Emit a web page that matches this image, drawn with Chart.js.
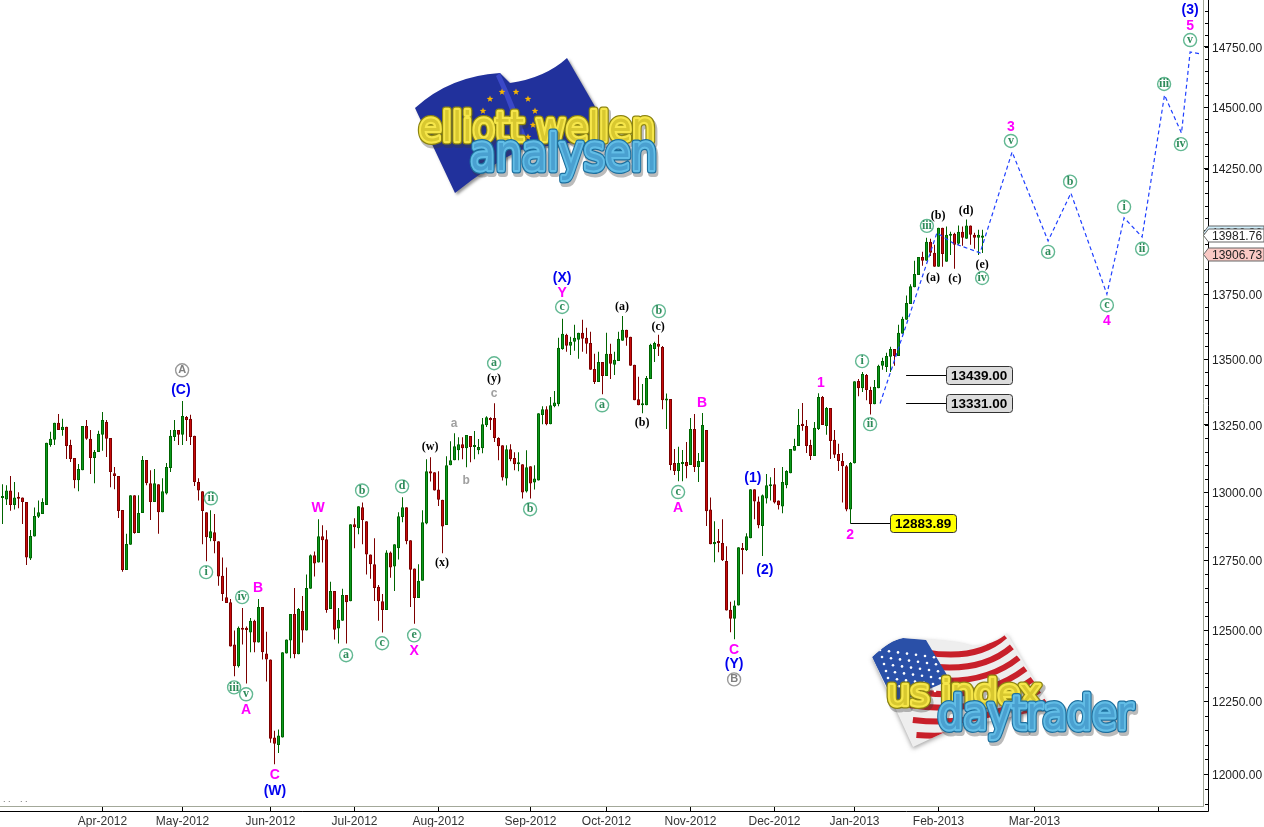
<!DOCTYPE html>
<html>
<head>
<meta charset="utf-8">
<title>US Index Elliott Wave</title>
<script src="https://cdn.jsdelivr.net/npm/chart.js@4"></script>
<style>
  html, body { margin: 0; padding: 0; background: #fff; overflow: hidden; }
  canvas { display: block; }
</style>
</head>
<body>
<canvas id="chart" width="1264" height="827"></canvas>
<script>
// daily candles
const opens = [
  12978,12973,13006,12952,12983,12980,12963,12757,12837,12909,
  12919,12952,13175,13194,13258,13231,13243,13175,13126,13044,
  13081,13246,13198,13126,13149,13213,13261,13201,13070,13059,
  12934,12716,12807,12988,12850,12923,13119,13033,12963,13029,
  12926,12995,13089,13205,13231,13213,13280,13273,13209,13037,
  13003,12926,12831,12853,12820,12695,12618,12600,12450,12373,
  12509,12509,12492,12534,12457,12583,12418,12397,12125,12100,
  12125,12418,12464,12558,12415,12569,12499,12648,12769,12743,
  12838,12827,12576,12640,12506,12534,12626,12603,12882,12867,
  12944,12893,12772,12736,12655,12603,12572,12779,12728,12794,
  12908,12944,12823,12721,12615,12677,12885,13077,13073,13009,
  12972,12879,13099,13118,13155,13178,13163,13208,13167,13155,
  13163,13249,13276,13276,13201,13174,13050,13159,13126,13103,
  13103,13002,13096,13035,13043,13287,13309,13253,13320,13328,
  13539,13593,13551,13566,13574,13601,13582,13562,13462,13412,
  13489,13435,13520,13478,13493,13570,13613,13586,13478,13347,
  13324,13324,13424,13539,13559,13546,13342,13348,13108,13078,
  13104,13111,13100,13235,13093,13111,13231,12936,12809,12820,
  12813,12748,12573,12541,12588,12795,12788,12831,13010,12965,
  12875,12976,13021,13029,12969,12947,13025,13070,13153,13171,
  13254,13246,13175,13134,13235,13355,13246,13314,13194,13141,
  13115,13096,12936,13107,13416,13389,13439,13382,13328,13389,
  13474,13470,13509,13539,13512,13597,13651,13713,13778,13826,
  13897,13882,13957,13913,13858,14013,13878,13981,13989,13949,
  13997,13969,14021,13985,13973,13973
];
const highs = [
  13029,13025,13059,13037,12999,12980,12963,12861,12943,12969,
  12977,13183,13224,13258,13291,13273,13243,13194,13126,13104,
  13246,13269,13231,13156,13228,13299,13269,13201,13093,13059,
  12934,12847,12988,12988,12988,13134,13119,13081,13085,13029,
  13051,13108,13231,13269,13231,13340,13284,13288,13209,13051,
  13003,12926,12933,12919,12820,12761,12725,12611,12499,12513,
  12579,12513,12544,12537,12611,12583,12495,12397,12149,12153,
  12422,12467,12558,12651,12579,12622,12699,12772,12783,12900,
  12878,12860,12673,12640,12579,12648,12626,12882,12904,12948,
  12962,12893,12772,12831,12662,12629,12787,12783,12809,12926,
  12981,12944,12823,12721,12736,12933,13122,13129,13073,13077,
  12972,13133,13189,13219,13204,13204,13212,13208,13227,13197,
  13276,13283,13279,13332,13204,13174,13174,13178,13148,13148,
  13103,13155,13096,13099,13294,13320,13320,13355,13378,13582,
  13655,13597,13586,13632,13601,13651,13620,13605,13520,13528,
  13489,13601,13559,13528,13605,13666,13613,13586,13478,13432,
  13405,13435,13559,13566,13593,13550,13369,13348,13160,13168,
  13156,13186,13276,13291,13145,13295,13231,12980,12893,12864,
  12900,12802,12602,12606,12798,12813,12849,13010,13010,12984,
  12991,13067,13055,13089,12969,13093,13081,13160,13198,13310,
  13333,13269,13194,13261,13370,13359,13318,13314,13231,13179,
  13145,13100,13111,13415,13424,13451,13443,13394,13420,13478,
  13505,13524,13547,13539,13632,13663,13746,13790,13882,13897,
  13917,13973,13969,13945,14013,14013,14017,13997,13993,14021,
  14017,14045,14021,13993,14005,14005
];
const lows = [
  12883,12952,12931,12936,12940,12883,12734,12752,12837,12905,
  12919,12952,13168,13175,13231,13209,13123,13111,13014,13003,
  13081,13194,13067,13033,13149,13153,13130,13018,13010,12905,
  12709,12716,12807,12847,12850,12923,13025,12897,12963,12847,
  12926,12991,13074,13190,13175,13175,13190,13175,13022,12969,
  12809,12747,12820,12776,12659,12604,12597,12443,12338,12369,
  12450,12313,12422,12422,12457,12397,12320,12107,12034,12072,
  12125,12418,12401,12401,12415,12457,12499,12648,12692,12743,
  12743,12562,12576,12467,12453,12534,12453,12603,12794,12845,
  12809,12699,12684,12604,12534,12492,12572,12688,12640,12754,
  12889,12809,12583,12523,12615,12677,12882,13039,13006,12949,
  12776,12879,13099,13118,13118,13122,13092,13110,13122,13140,
  13144,13242,13231,13186,13118,13043,13024,13114,13081,13077,
  12976,12998,12976,13009,13043,13253,13249,13253,13317,13320,
  13536,13528,13516,13532,13501,13528,13520,13459,13405,13412,
  13366,13435,13424,13439,13493,13570,13551,13474,13343,13324,
  13294,13324,13424,13489,13512,13309,13235,13081,13063,13040,
  13040,13051,13100,13074,13037,13111,12875,12809,12744,12780,
  12748,12570,12493,12468,12588,12700,12784,12831,12900,12867,
  12766,12958,12969,12958,12936,12922,13014,13070,13153,13171,
  13228,13145,13119,13134,13231,13250,13213,13123,13126,13078,
  12962,12929,12885,13106,13358,13374,13343,13289,13328,13389,
  13459,13451,13451,13474,13512,13597,13651,13713,13778,13826,
  13862,13882,13901,13858,13858,13858,13878,13905,13850,13945,
  13941,13969,13945,13929,13905,13912
];
const closes = [
  12983,13006,12952,12980,12975,12963,12761,12839,12912,12926,
  12963,13183,13198,13258,13231,13243,13171,13123,13044,13085,
  13246,13198,13126,13149,13217,13269,13198,13074,13059,12930,
  12716,12810,12988,12850,12923,13119,13033,12963,13033,12926,
  13003,13093,13209,13231,13213,13284,13269,13205,13037,13006,
  12930,12834,12856,12820,12692,12629,12597,12443,12373,12509,
  12502,12501,12534,12457,12583,12422,12397,12121,12104,12132,
  12422,12467,12558,12415,12576,12499,12651,12769,12739,12838,
  12823,12572,12640,12502,12537,12626,12600,12882,12871,12948,
  12897,12772,12736,12651,12603,12572,12779,12725,12809,12911,
  12944,12820,12717,12615,12677,12889,13077,13069,13006,12972,
  12874,13099,13118,13170,13178,13163,13212,13167,13174,13167,
  13253,13279,13268,13201,13170,13054,13159,13122,13103,13110,
  12998,13092,13032,13050,13294,13309,13253,13324,13335,13543,
  13597,13551,13566,13582,13601,13578,13559,13459,13412,13489,
  13435,13520,13482,13497,13578,13613,13582,13474,13343,13324,
  13332,13428,13555,13562,13547,13343,13347,13100,13078,13108,
  13111,13096,13235,13093,13115,13250,12929,12809,12817,12813,
  12751,12570,12541,12588,12798,12788,12838,13010,12965,12878,
  12988,13025,13029,12962,12951,13037,13078,13160,13171,13250,
  13246,13171,13134,13239,13355,13250,13314,13190,13138,13115,
  13096,12936,13108,13415,13389,13443,13382,13328,13393,13474,
  13493,13512,13539,13512,13601,13655,13716,13782,13830,13897,
  13882,13957,13913,13858,14013,13909,13985,13989,13945,13997,
  13973,14021,13985,13973,13985,13982
];

// dashed projection: bar number and price of each turning point
const projBars = [219.4,233.6,237.6,244.4,252.4,261.4,267.1,276.1,280.4,284.9,290.5,294.75,296.9,299.6];
const projPrices = [13331,13992,13952,13913,14317,13960,14151,13751,14052,13976,14550,14394,14729,14721];

// axis ticks
const monthBars = [25,45,67,88,109,132,151,172,193,213,234,258,289];
const monthLabels = ['Apr-2012','May-2012','Jun-2012','Jul-2012','Aug-2012','Sep-2012','Oct-2012','Nov-2012','Dec-2012','Jan-2013','Feb-2013','Mar-2013',''];
const priceTicks = [12000,12250,12500,12750,13000,13250,13500,13750,14000,14250,14500,14750];

// wave labels as [text, bar, price]
const blueLabels = [['(C)',44.6,13385],['(W)',68.1,11946],['(X)',139.9,13818],['(1)',187.6,13054],['(2)',190.6,12719],['(Y)',182.9,12383],['(3)',296.9,14910]];
const magentaLabels = [['W',78.9,12944],['B',63.9,12654],['A',60.9,12224],['C',68.1,12000],['X',102.9,12429],['Y',139.9,13759],['B',174.9,13335],['A',168.9,12944],['C',182.9,12433],['1',204.6,13411],['2',211.9,12845],['3',252.1,14423],['4',276.1,13650],['5',296.9,14842]];
const blackLabels = [['(w)',106.9,13170],['(x)',109.9,12744],['(y)',122.9,13427],['(a)',154.9,13705],['(b)',159.9,13260],['(c)',163.9,13627],['(a)',232.6,13818],['(b)',233.9,14064],['(c)',238.1,13814],['(d)',240.9,14084],['(e)',244.9,13869]];
const greyLabels = [['a',112.9,13257],['b',115.9,13047],['c',122.9,13373]];
const circledGreen = [['ii',52.1,12977],['i',50.9,12708],['iv',59.9,12618],['iii',57.9,12299],['v',60.9,12275],['a',85.9,12412],['b',89.9,13006],['c',94.9,12454],['d',99.9,13021],['e',102.9,12482],['a',122.9,13484],['b',131.9,12937],['c',139.9,13701],['a',149.9,13324],['b',164.1,13685],['c',168.9,13000],['i',214.9,13492],['ii',216.9,13253],['iii',231.1,14020],['iv',244.9,13814],['v',252.1,14362],['a',261.4,13917],['b',266.9,14197],['c',276.1,13708],['i',280.4,14096],['ii',284.9,13929],['iii',290.4,14596],['iv',294.6,14349],['v',296.9,14779]];
const circledGrey = [['A',44.9,13457],['B',182.9,12327]];

// price callouts as [price, first bar, last bar, fill]
const callouts = [[13439.00,225.9,235.9,'#dcdcdc'],[13331.00,225.9,235.9,'#dcdcdc'],[12883.89,212,221.9,'#ffff00']];
// tags on the price axis
const axisTagValues = [13996.36,13981.76,13906.73];
const axisTagFills = ['#cfeefa','#ffffff','#f9c9c4'];

const isUp = opens.map((o, i) => closes[i] >= o);
const GREEN_DARK = '#006400', GREEN = '#0a9a1e', RED_DARK = '#7c0000', RED = '#c80a0a';

function drawText(ctx, text, x, y, font, color) {
  ctx.font = font;
  ctx.fillStyle = color;
  ctx.textAlign = 'center';
  ctx.textBaseline = 'middle';
  ctx.fillText(text, x, y + 1);
}

// text with a coloured rim, squeezed to a given width
function logoText(ctx, text, x, y, width, font, rim, fill, core) {
  ctx.save();
  ctx.font = font;
  ctx.textAlign = 'left';
  ctx.textBaseline = 'alphabetic';
  ctx.lineJoin = 'round';
  const w = ctx.measureText(text).width;
  ctx.translate(x, y);
  ctx.scale(width / w, 1);
  ctx.strokeStyle = 'rgba(60,60,60,0.35)';
  ctx.lineWidth = 8;
  ctx.strokeText(text, 2, 3);
  ctx.strokeStyle = rim;
  ctx.lineWidth = 7;
  ctx.strokeText(text, 0, 0);
  ctx.strokeStyle = fill;
  ctx.lineWidth = 4.5;
  ctx.strokeText(text, 0, 0);
  ctx.fillStyle = core;
  ctx.fillText(text, 0, 0);
  ctx.restore();
}

function star(ctx, x, y, r) {
  ctx.beginPath();
  for (let i = 0; i < 10; i++) {
    const a = -Math.PI / 2 + i * Math.PI / 5;
    const rr = i % 2 ? r * 0.42 : r;
    ctx.lineTo(x + rr * Math.cos(a), y + rr * Math.sin(a));
  }
  ctx.closePath();
  ctx.fill();
}

function drawEuLogo(ctx) {
  ctx.save();
  const shape = () => {
    ctx.beginPath();
    ctx.moveTo(415, 108);
    ctx.quadraticCurveTo(450, 76, 500, 73);
    ctx.lineTo(510, 83);
    ctx.quadraticCurveTo(545, 78, 567, 58);
    ctx.lineTo(597, 110);
    ctx.lineTo(590, 140);
    ctx.lineTo(520, 150);
    ctx.quadraticCurveTo(490, 165, 455, 193);
    ctx.closePath();
  };
  ctx.shadowColor = 'rgba(80,80,80,0.6)';
  ctx.shadowBlur = 3;
  ctx.shadowOffsetX = 2;
  ctx.shadowOffsetY = 2;
  ctx.fillStyle = '#21319c';
  shape();
  ctx.fill();
  ctx.shadowColor = 'transparent';
  ctx.fillStyle = '#3a48c8';
  ctx.beginPath();
  ctx.moveTo(500, 73);
  ctx.quadraticCurveTo(515, 105, 528, 142);
  ctx.lineTo(521, 146);
  ctx.quadraticCurveTo(510, 105, 496, 76);
  ctx.closePath();
  ctx.fill();
  ctx.fillStyle = '#f5b400';
  [[502,92],[516,92],[490,99],[528,99],[483,111],[535,111],[533,125],[528,137],[488,135]].forEach(p => star(ctx, p[0], p[1], 3.5));
  ctx.restore();
  logoText(ctx, 'elliott wellen', 419, 141, 236, '40px "DejaVu Sans"', '#8c8410', '#f6e64a', '#d8c830');
  logoText(ctx, 'analysen', 470, 170, 187, '50px "DejaVu Sans"', '#1d6f9e', '#62bde6', '#4aa0d0');
}

function drawUsLogo(ctx) {
  ctx.save();
  ctx.beginPath();
  ctx.moveTo(872, 657);
  ctx.quadraticCurveTo(890, 640, 903, 638);
  ctx.quadraticCurveTo(960, 640, 972, 646);
  ctx.quadraticCurveTo(995, 645, 1007, 633);
  ctx.lineTo(1050, 707);
  ctx.lineTo(1000, 720);
  ctx.lineTo(960, 725);
  ctx.lineTo(913, 747);
  ctx.lineTo(893, 703);
  ctx.closePath();
  ctx.shadowColor = 'rgba(80,80,80,0.5)';
  ctx.shadowBlur = 4;
  ctx.shadowOffsetY = 2;
  ctx.fillStyle = '#eeeeee';
  ctx.fill();
  ctx.shadowColor = 'transparent';
  ctx.clip();
  ctx.strokeStyle = '#c8202a';
  ctx.lineWidth = 6;
  for (let n = 0; n < 8; n++) {
    const t = n / 7;
    ctx.beginPath();
    ctx.moveTo(895 + 25 * t, 645 + 105 * t);
    ctx.quadraticCurveTo(970 + 20 * t, 668 + 85 * t, 1005 + 48 * t, 636 + 76 * t);
    ctx.stroke();
  }
  ctx.fillStyle = '#2a50a8';
  ctx.beginPath();
  ctx.moveTo(872, 657);
  ctx.quadraticCurveTo(890, 640, 903, 638);
  ctx.lineTo(926, 640);
  ctx.lineTo(950, 680);
  ctx.lineTo(895, 704);
  ctx.closePath();
  ctx.fill();
  ctx.fillStyle = '#ffffff';
  for (let r = 0; r < 6; r++) {
    for (let c = 0; c < 7; c++) {
      ctx.beginPath();
      ctx.arc(880 + c * 9 + r * 2, 650 + r * 7 + c * 1.2, 1.3, 0, 7);
      ctx.fill();
    }
  }
  ctx.restore();
  logoText(ctx, 'us index', 887, 705, 154, '36px "DejaVu Sans"', '#8c8410', '#f6e64a', '#d8c830');
  logoText(ctx, 'daytrader', 938, 729, 195, '46px "DejaVu Sans"', '#1d6f9e', '#62bde6', '#4aa0d0');
}

const overlayPlugin = {
  id: 'overlay',
  afterDraw(chart) {
    const ctx = chart.ctx;
    const x = chart.scales.x, y = chart.scales.y, area = chart.chartArea;
    const axisX = area.right + 5, axisY = area.bottom + 5;
    ctx.save();

    // black outer axis lines and minor price ticks
    ctx.strokeStyle = '#000';
    ctx.lineWidth = 1;
    ctx.beginPath();
    ctx.moveTo(0, axisY + 0.5);
    ctx.lineTo(axisX + 0.5, axisY + 0.5);
    ctx.lineTo(axisX + 0.5, 0);
    for (let v = 11900; v <= 14900; v += 50) {
      const py = Math.round(y.getPixelForValue(v)) + 0.5;
      ctx.moveTo(axisX - 3, py);
      ctx.lineTo(axisX, py);
    }
    ctx.stroke();

    // price labels sit a touch below their ticks, so they are drawn here
    ctx.font = '12px "Liberation Sans"';
    ctx.fillStyle = '#222';
    ctx.textAlign = 'left';
    ctx.textBaseline = 'middle';
    y.ticks.forEach(t => ctx.fillText(t.label, axisX + 4, y.getPixelForValue(t.value) + 1.5));

    drawEuLogo(ctx);
    drawUsLogo(ctx);

    blueLabels.forEach(l => drawText(ctx, l[0], x.getPixelForValue(l[1]), y.getPixelForValue(l[2]), 'bold 14px "Liberation Sans"', '#0000ee'));
    magentaLabels.forEach(l => drawText(ctx, l[0], x.getPixelForValue(l[1]), y.getPixelForValue(l[2]), 'bold 14px "Liberation Sans"', '#ff00ff'));
    blackLabels.forEach(l => drawText(ctx, l[0], x.getPixelForValue(l[1]), y.getPixelForValue(l[2]), 'bold 12px "Liberation Serif"', '#000'));
    greyLabels.forEach(l => drawText(ctx, l[0], x.getPixelForValue(l[1]), y.getPixelForValue(l[2]), 'bold 12px "Liberation Sans"', '#a0a0a0'));

    const circled = (l, rim, color, font) => {
      const cx = x.getPixelForValue(l[1]), cy = y.getPixelForValue(l[2]);
      ctx.beginPath();
      ctx.arc(cx, cy, 6.5, 0, Math.PI * 2);
      ctx.fillStyle = '#fff';
      ctx.fill();
      ctx.strokeStyle = rim;
      ctx.lineWidth = 1.4;
      ctx.stroke();
      drawText(ctx, l[0], cx, cy - 1, font, color);
    };
    circledGreen.forEach(l => circled(l, '#62b892', '#2e8b5a', 'bold 12px "Liberation Serif"'));
    circledGrey.forEach(l => circled(l, '#999999', '#808080', 'bold 11px "Liberation Sans"'));

    // price callouts
    callouts.forEach(c => {
      const py = Math.floor(y.getPixelForValue(c[0])) + 0.5;
      const x0 = x.getPixelForValue(c[1]), x1 = x.getPixelForValue(c[2]);
      ctx.strokeStyle = '#000';
      ctx.lineWidth = 1;
      ctx.beginPath();
      ctx.moveTo(x0, py);
      ctx.lineTo(x1, py);
      ctx.stroke();
      ctx.beginPath();
      ctx.roundRect(Math.round(x1) + 0.5, py - 9, 66, 18, 3);
      ctx.fillStyle = c[3];
      ctx.fill();
      ctx.strokeStyle = '#333';
      ctx.stroke();
      drawText(ctx, c[0].toFixed(2), x1 + 33, py, 'bold 13.5px "Liberation Sans"', '#000');
    });

    // tags on the price axis
    axisTagValues.forEach((v, i) => {
      const py = Math.round(y.getPixelForValue(v)) + 0.5;
      ctx.beginPath();
      ctx.moveTo(area.right + 0.5, py);
      ctx.lineTo(axisX + 0.5, py - 6.5);
      ctx.lineTo(1264, py - 6.5);
      ctx.lineTo(1264, py + 6.5);
      ctx.lineTo(axisX + 0.5, py + 6.5);
      ctx.closePath();
      ctx.fillStyle = axisTagFills[i];
      ctx.fill();
      ctx.strokeStyle = '#666';
      ctx.lineWidth = 1;
      ctx.stroke();
      ctx.font = '12px "Liberation Sans"';
      ctx.fillStyle = '#222';
      ctx.textAlign = 'left';
      ctx.textBaseline = 'middle';
      ctx.fillText(v.toFixed(2), axisX + 4, py + 1);
    });

    // the few stray dots bottom left
    ctx.font = '9px "Liberation Sans"';
    ctx.fillStyle = '#666';
    ctx.textAlign = 'left';
    ctx.textBaseline = 'alphabetic';
    ctx.fillText('. .', 3, 802);
    ctx.fillText('. .', 20, 802);
    ctx.restore();
  }
};

new Chart(document.getElementById('chart'), {
  type: 'bar',
  data: {
    datasets: [
      {
        type: 'line',
        data: projBars.map((b, i) => ({ x: b, y: projPrices[i] })),
        borderColor: '#2040ff',
        borderWidth: 1.2,
        borderDash: [4, 3],
        pointRadius: 0,
        tension: 0,
        order: 0
      },
      {
        // bodies
        data: opens.map((o, i) => ({ x: i, y: [o, closes[i]] })),
        backgroundColor: isUp.map(u => u ? GREEN : RED),
        borderColor: isUp.map(u => u ? GREEN_DARK : RED_DARK),
        borderWidth: 1,
        borderSkipped: false,
        inflateAmount: 0,
        barThickness: 3,
        minBarLength: 2,
        grouped: false,
        order: 1
      },
      {
        // wicks
        data: lows.map((l, i) => ({ x: i, y: [l, highs[i]] })),
        backgroundColor: isUp.map(u => u ? GREEN_DARK : RED_DARK),
        borderWidth: 0,
        inflateAmount: 0,
        barThickness: 1,
        grouped: false,
        order: 2
      }
    ]
  },
  options: {
    responsive: false,
    animation: false,
    events: [],
    layout: { padding: 0 },
    plugins: { legend: { display: false }, tooltip: { enabled: false }, title: { display: false } },
    scales: {
      x: {
        type: 'linear',
        offset: false,
        min: -0.625,
        max: 300.125,
        afterFit(scale) { scale.height = 21; scale.paddingLeft = 0; scale.paddingRight = 0; },
        afterBuildTicks(scale) { scale.ticks = monthBars.map(v => ({ value: v })); },
        grid: { offset: false, drawOnChartArea: false, tickLength: 5, tickColor: '#000' },
        border: { color: '#a3a899' },
        ticks: {
          autoSkip: false,
          maxRotation: 0,
          padding: 3,
          color: '#333',
          font: { family: 'Liberation Sans', size: 12 },
          callback: v => monthLabels[monthBars.indexOf(v)]
        }
      },
      y: {
        type: 'logarithmic',
        position: 'right',
        bounds: 'data',
        min: 11892,
        max: 14948,
        afterFit(scale) { scale.width = 61; scale.paddingTop = 0; scale.paddingBottom = 0; },
        afterBuildTicks(scale) { scale.ticks = priceTicks.map(v => ({ value: v })); },
        grid: { drawOnChartArea: false, tickLength: 5, tickColor: '#000' },
        border: { color: '#a3a899' },
        ticks: {
          display: false,
          autoSkip: false,
          callback: v => Number(v).toFixed(2)
        }
      }
    }
  },
  plugins: [overlayPlugin]
});
</script>
</body>
</html>
